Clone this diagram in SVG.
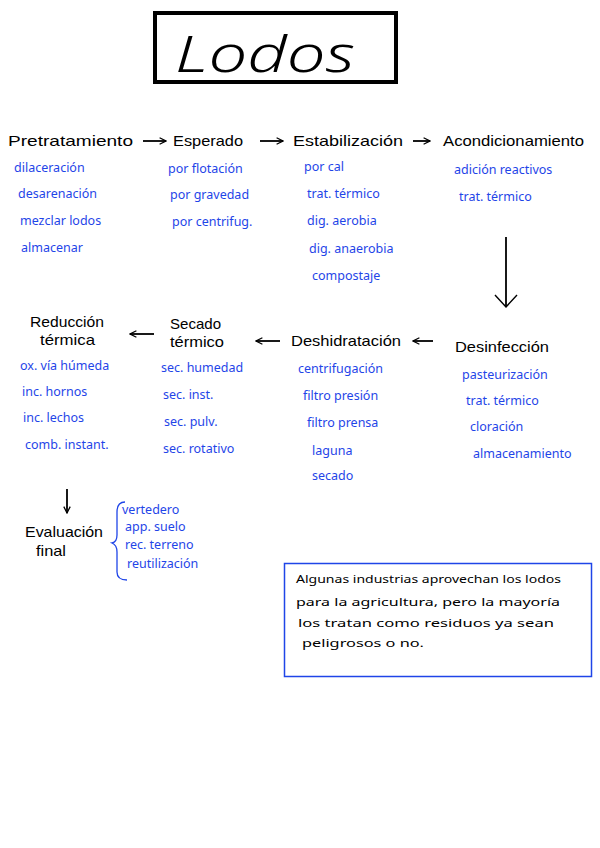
<svg xmlns="http://www.w3.org/2000/svg" width="600" height="848" viewBox="0 0 600 848">
<defs>
<marker id="ah" viewBox="0 0 10 10" refX="9" refY="5" markerWidth="8" markerHeight="8" orient="auto-start-reverse" markerUnits="userSpaceOnUse">
<path d="M1,1 L9,5 L1,9" fill="none" stroke="#000" stroke-width="1.6"/>
</marker>
<marker id="ahb" viewBox="0 0 24 14" refX="12" refY="13" markerWidth="24" markerHeight="14" orient="0" markerUnits="userSpaceOnUse">
<path d="M1,1 L12,13 L23,1" fill="none" stroke="#000" stroke-width="1.4"/>
</marker>
</defs>
<style>
text{font-family:"Noto Sans","DejaVu Sans",sans-serif}
.h{font-size:15px;fill:#000;font-family:"Liberation Sans",Arial,sans-serif}
.b{font-size:12.5px;fill:#1f45e8}
.n{font-size:11.5px;fill:#000}
.c{stroke:#000;stroke-width:1.8;fill:none}
</style>
<rect width="600" height="848" fill="#fff"/>
<g id="title">
<rect x="155" y="13" width="241" height="69" fill="none" stroke="#000" stroke-width="4"/>
<text x="265" y="72" text-anchor="middle" font-size="50" font-family="'DejaVu Serif',serif" font-style="italic" font-weight="300" textLength="180" lengthAdjust="spacingAndGlyphs">Lodos</text>
</g>
<g id="connectors">
<line class="c" x1="143" y1="141" x2="166" y2="141" marker-end="url(#ah)"/>
<line class="c" x1="260" y1="141" x2="283" y2="141" marker-end="url(#ah)"/>
<line class="c" x1="413" y1="141" x2="430" y2="141" marker-end="url(#ah)"/>
<line class="c" x1="506" y1="237" x2="506" y2="307" marker-end="url(#ahb)"/>
<line class="c" x1="433" y1="341" x2="413" y2="341" marker-end="url(#ah)"/>
<line class="c" x1="280" y1="341" x2="256" y2="341" marker-end="url(#ah)"/>
<line class="c" x1="154" y1="334" x2="130" y2="334" marker-end="url(#ah)"/>
<line class="c" x1="67" y1="489" x2="67" y2="513" marker-end="url(#ah)"/>
</g>
<g id="pretratamiento">
<text class="h" x="8" y="146" textLength="125" lengthAdjust="spacingAndGlyphs">Pretratamiento</text>
<text class="b" x="14" y="172">dilaceración</text>
<text class="b" x="18" y="198">desarenación</text>
<text class="b" x="20" y="225">mezclar lodos</text>
<text class="b" x="21" y="252">almacenar</text>
</g>
<g id="esperado">
<text class="h" x="173" y="146" textLength="70" lengthAdjust="spacingAndGlyphs">Esperado</text>
<text class="b" x="168" y="173">por flotación</text>
<text class="b" x="170" y="199">por gravedad</text>
<text class="b" x="172" y="226">por centrifug.</text>
</g>
<g id="estabilizacion">
<text class="h" x="293" y="146" textLength="110" lengthAdjust="spacingAndGlyphs">Estabilización</text>
<text class="b" x="304" y="171">por cal</text>
<text class="b" x="307" y="198">trat. térmico</text>
<text class="b" x="307" y="225">dig. aerobia</text>
<text class="b" x="309" y="253">dig. anaerobia</text>
<text class="b" x="312" y="280">compostaje</text>
</g>
<g id="acondicionamiento">
<text class="h" x="443" y="146" textLength="141" lengthAdjust="spacingAndGlyphs">Acondicionamiento</text>
<text class="b" x="454" y="174">adición reactivos</text>
<text class="b" x="459" y="201">trat. térmico</text>
</g>
<g id="desinfeccion">
<text class="h" x="455" y="352" textLength="94" lengthAdjust="spacingAndGlyphs">Desinfección</text>
<text class="b" x="462" y="379">pasteurización</text>
<text class="b" x="466" y="405">trat. térmico</text>
<text class="b" x="470" y="431">cloración</text>
<text class="b" x="473" y="458">almacenamiento</text>
</g>
<g id="deshidratacion">
<text class="h" x="291" y="346" textLength="110" lengthAdjust="spacingAndGlyphs">Deshidratación</text>
<text class="b" x="298" y="373">centrifugación</text>
<text class="b" x="303" y="400">filtro presión</text>
<text class="b" x="307" y="427">filtro prensa</text>
<text class="b" x="312" y="455">laguna</text>
<text class="b" x="312" y="480">secado</text>
</g>
<g id="secado">
<text class="h" x="170" y="329" font-size="14" textLength="51" lengthAdjust="spacingAndGlyphs">Secado</text>
<text class="h" x="170" y="347" font-size="14" textLength="54" lengthAdjust="spacingAndGlyphs">térmico</text>
<text class="b" x="161" y="372">sec. humedad</text>
<text class="b" x="163" y="399">sec. inst.</text>
<text class="b" x="164" y="426">sec. pulv.</text>
<text class="b" x="163" y="453">sec. rotativo</text>
</g>
<g id="reduccion">
<text class="h" x="30" y="327" font-size="14" textLength="74" lengthAdjust="spacingAndGlyphs">Reducción</text>
<text class="h" x="40" y="345" font-size="14" textLength="55" lengthAdjust="spacingAndGlyphs">térmica</text>
<text class="b" x="20" y="370">ox. vía húmeda</text>
<text class="b" x="22" y="396">inc. hornos</text>
<text class="b" x="23" y="422">inc. lechos</text>
<text class="b" x="25" y="449">comb. instant.</text>
</g>
<g id="evaluacion">
<text class="h" x="25" y="537" textLength="78" lengthAdjust="spacingAndGlyphs">Evaluación</text>
<text class="h" x="36" y="556" textLength="30" lengthAdjust="spacingAndGlyphs">final</text>
<path d="M125,502 Q117,502 117,512 L117,535 Q117,542 112,543 Q117,545 117,552 L117,572 Q117,580 127,580" fill="none" stroke="#1f45e8" stroke-width="1.3"/>
<text class="b" x="122" y="514">vertedero</text>
<text class="b" x="125" y="531">app. suelo</text>
<text class="b" x="125" y="549">rec. terreno</text>
<text class="b" x="127" y="568">reutilización</text>
</g>
<g id="nota">
<rect x="284.5" y="563.5" width="307" height="113" fill="none" stroke="#1f45e8" stroke-width="1.5"/>
<text class="n" x="296" y="583" textLength="265" lengthAdjust="spacingAndGlyphs">Algunas industrias aprovechan los lodos</text>
<text class="n" x="296" y="606" textLength="264" lengthAdjust="spacingAndGlyphs">para la agricultura, pero la mayoría</text>
<text class="n" x="298" y="627" textLength="256" lengthAdjust="spacingAndGlyphs">los tratan como residuos ya sean</text>
<text class="n" x="302" y="647" textLength="122" lengthAdjust="spacingAndGlyphs">peligrosos o no.</text>
</g>
</svg>
